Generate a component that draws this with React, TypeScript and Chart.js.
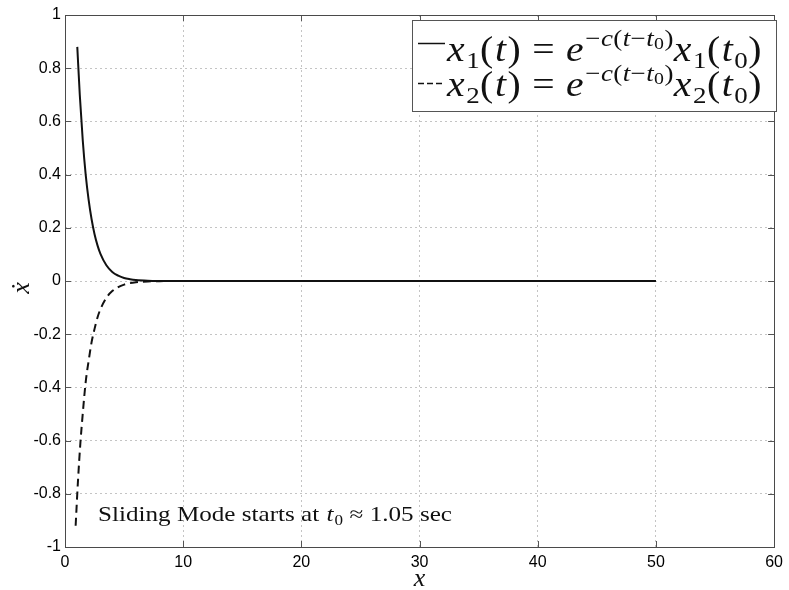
import React, { useEffect, useRef } from "react";
import { Chart, registerables } from "chart.js";
Chart.register(...registerables);

// ---- data ----
const x1T = [1.04, 1.25, 1.5, 1.75, 2.0, 2.25, 2.5, 2.75, 3.0, 3.5, 4.0, 4.5, 5.0, 5.5, 6.0, 7.0, 8.0, 10, 20, 30, 40, 50];
const x1V = [0.88, 0.70, 0.53, 0.40, 0.305, 0.232, 0.176, 0.134, 0.102, 0.059, 0.034, 0.020, 0.011, 0.0066, 0.0038, 0.0013, 0.0004, 0, 0, 0, 0, 0];
const x2T = [0.9, 1.1, 1.3, 1.5, 1.75, 2.0, 2.25, 2.5, 2.75, 3.0, 3.5, 4.0, 4.5, 5.0, 5.5, 6.0, 7.0, 8.0, 10, 20, 30, 40, 50];
const x2V = [-0.92, -0.75, -0.61, -0.50, -0.38, -0.30, -0.23, -0.18, -0.137, -0.106, -0.063, -0.038, -0.023, -0.0135, -0.008, -0.0048, -0.0017, -0.0006, 0, 0, 0, 0, 0];
const xTicks = [0, 10, 20, 30, 40, 50, 60];
const yTicks = [-1, -0.8, -0.6, -0.4, -0.2, 0, 0.2, 0.4, 0.6, 0.8, 1];
const xTitle = "x";
const yTitle = "ẋ";
const noteText = ["Sliding Mode starts at ", "t", "0", " ≈ 1.05 sec"];

type Seg = { t: string; it?: boolean; lv?: number };
const legend1: Seg[] = [
  { t: "x", it: true }, { t: "1", lv: 1 }, { t: "(" }, { t: "t", it: true }, { t: ")" }, { t: " = " },
  { t: "e", it: true }, { t: "−", lv: 2 }, { t: "c", it: true, lv: 2 }, { t: "(", lv: 2 }, { t: "t", it: true, lv: 2 },
  { t: "−", lv: 2 }, { t: "t", it: true, lv: 2 }, { t: "0", lv: 3 }, { t: ")", lv: 2 },
  { t: "x", it: true }, { t: "1", lv: 1 }, { t: "(" }, { t: "t", it: true }, { t: "0", lv: 1 }, { t: ")" },
];
const legend2: Seg[] = legend1.map((s, i) => (i === 1 || i === 16 ? { ...s, t: "2" } : s));

const SERIF = "'Liberation Serif', 'DejaVu Serif', serif";
const SANS = "'Liberation Sans', Arial, sans-serif";
const LV_SIZE = [1, 0.68, 0.68, 0.5];
const LV_DY = [0, 0.2, -0.42, -0.33];

function drawMath(ctx: CanvasRenderingContext2D, segs: Seg[], S: number, draw: boolean): number {
  let cx = 0;
  for (const s of segs) {
    const lv = s.lv || 0;
    const size = S * LV_SIZE[lv];
    ctx.font = `${s.it ? "italic " : ""}${size}px ${SERIF}`;
    const w = ctx.measureText(s.t).width;
    if (draw) ctx.fillText(s.t, cx, S * LV_DY[lv]);
    cx += w + (lv === 0 ? S * 0.04 : S * 0.01);
  }
  return cx;
}

// font size chosen from the glyph height; width reached by horizontal stretch
function drawFit(ctx: CanvasRenderingContext2D, segs: Seg[], x: number, y: number, S: number, width: number) {
  const w0 = drawMath(ctx, segs, S, false);
  ctx.save();
  ctx.translate(x, y);
  ctx.scale(width / w0, 1);
  drawMath(ctx, segs, S, true);
  ctx.restore();
}

const decor = {
  id: "decor",
  afterDraw(chart: any) {
    const ctx: CanvasRenderingContext2D = chart.ctx;
    const { left, right, top, bottom } = chart.chartArea;
    const xs = chart.scales.x;
    const ys = chart.scales.y;
    ctx.save();
    // inward ticks
    ctx.strokeStyle = "#555";
    ctx.lineWidth = 1;
    ctx.beginPath();
    const TL = 6;
    for (const v of xTicks) {
      const px = Math.round(xs.getPixelForValue(v)) + 0.5;
      ctx.moveTo(px, bottom); ctx.lineTo(px, bottom - TL);
      ctx.moveTo(px, top); ctx.lineTo(px, top + TL);
    }
    for (const v of yTicks) {
      const py = Math.round(ys.getPixelForValue(v)) + 0.5;
      ctx.moveTo(left, py); ctx.lineTo(left + TL, py);
      ctx.moveTo(right, py); ctx.lineTo(right - TL, py);
    }
    ctx.stroke();
    // box
    ctx.strokeStyle = "#4a4a4a";
    ctx.strokeRect(Math.round(left) + 0.5, Math.round(top) + 0.5, Math.round(right - left), Math.round(bottom - top));

    // axis titles
    ctx.fillStyle = "#111";
    ctx.textAlign = "center";
    ctx.textBaseline = "alphabetic";
    ctx.font = `italic 26px ${SERIF}`;
    ctx.fillText(xTitle, (left + right) / 2, 586);
    ctx.save();
    ctx.translate(29, 288);
    ctx.rotate(-Math.PI / 2);
    ctx.font = `italic 26px ${SERIF}`;
    ctx.fillText(yTitle, 0, 0);
    ctx.restore();

    // legend box
    ctx.textAlign = "left";
    ctx.fillStyle = "#fff";
    ctx.fillRect(412.5, 20.5, 364, 91);
    ctx.strokeStyle = "#555";
    ctx.strokeRect(412.5, 20.5, 364, 91);
    ctx.strokeStyle = "#111";
    ctx.lineWidth = 1.5;
    ctx.beginPath();
    ctx.moveTo(418, 43.5); ctx.lineTo(445, 43.5);
    ctx.stroke();
    ctx.setLineDash([6, 3]);
    ctx.beginPath();
    ctx.moveTo(418, 83.5); ctx.lineTo(445, 83.5);
    ctx.stroke();
    ctx.setLineDash([]);
    ctx.fillStyle = "#111";
    drawFit(ctx, legend1, 447, 61, 35, 316);
    drawFit(ctx, legend2, 447, 96, 35, 316);

    // annotation
    const note: Seg[] = [{ t: noteText[0] }, { t: noteText[1], it: true }, { t: noteText[2], lv: 1 }, { t: noteText[3] }];
    drawFit(ctx, note, 98, 521, 21, 355);
    ctx.restore();
  },
};

export default function App() {
  const ref = useRef<HTMLCanvasElement | null>(null);
  useEffect(() => {
    if (!ref.current) return;
    const tickFont = { family: SANS, size: 16 };
    const chart = new Chart(ref.current, {
      type: "line",
      data: {
        datasets: [
          {
            label: "x1",
            data: x1T.map((t, i) => ({ x: t, y: x1V[i] })),
            borderColor: "#111",
            borderWidth: 2,
            pointRadius: 0,
            cubicInterpolationMode: "monotone",
          },
          {
            label: "x2",
            data: x2T.map((t, i) => ({ x: t, y: x2V[i] })),
            borderColor: "#111",
            borderWidth: 2,
            borderDash: [8, 5],
            pointRadius: 0,
            cubicInterpolationMode: "monotone",
          },
        ],
      },
      plugins: [decor],
      options: {
        animation: false,
        responsive: false,
        layout: { padding: { top: 15, right: 10, left: 0, bottom: 0 } },
        plugins: { legend: { display: false }, tooltip: { enabled: false } },
        scales: {
          x: {
            type: "linear",
            min: 0,
            max: 60,
            afterBuildTicks: (s: any) => { s.ticks = xTicks.map((v) => ({ value: v })); },
            afterFit: (s: any) => { s.height = 43; },
            grid: { color: "#c4c4c4", lineWidth: 1, drawTicks: false },
            border: { display: false, dash: [2, 3] },
            ticks: { padding: 6, font: tickFont, color: "#000", maxRotation: 0, autoSkip: false },
          },
          y: {
            type: "linear",
            min: -1,
            max: 1,
            afterBuildTicks: (s: any) => { s.ticks = yTicks.map((v) => ({ value: v })); },
            afterFit: (s: any) => { s.width = 65; },
            grid: { color: "#c4c4c4", lineWidth: 1, drawTicks: false },
            border: { display: false, dash: [2, 3] },
            ticks: {
              padding: 4,
              font: tickFont,
              color: "#000",
              autoSkip: false,
              callback: (v: any) => String(Number(Number(v).toFixed(1))),
            },
          },
        },
      },
    });
    return () => chart.destroy();
  }, []);
  return (
    <div style={{ position: "absolute", left: 0, top: 0, width: 789, height: 590, background: "#fff" }}>
      <canvas ref={ref} width={789} height={590} style={{ display: "block" }} />
    </div>
  );
}
